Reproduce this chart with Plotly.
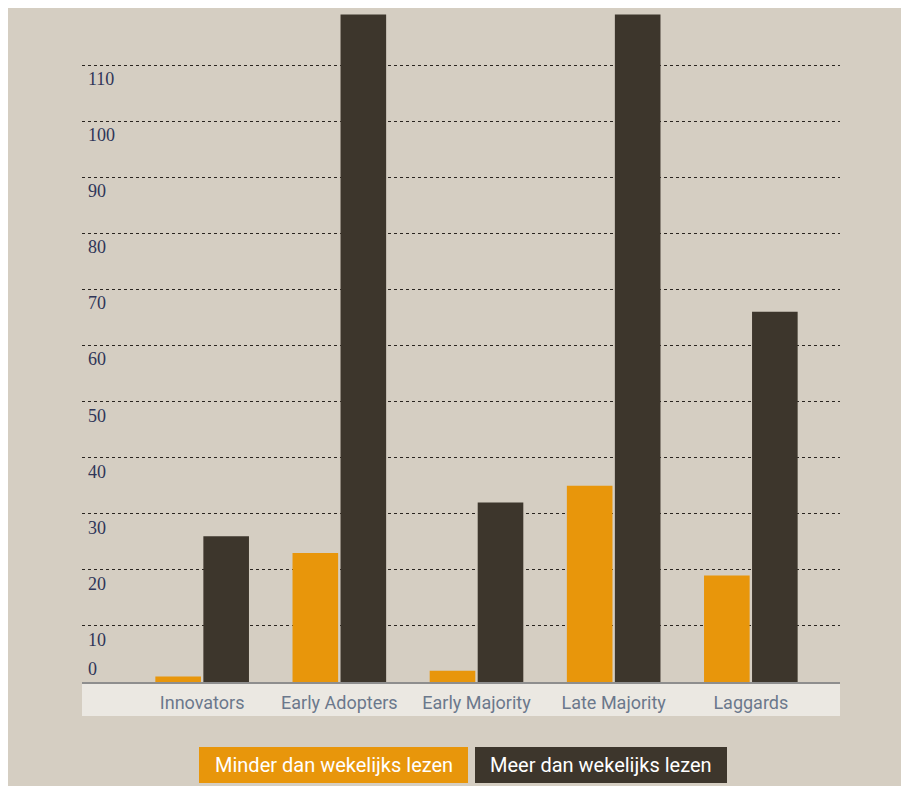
import plotly.graph_objects as go

categories = ["Innovators", "Early Adopters", "Early Majority", "Late Majority", "Laggards"]
series_names = ["Minder dan wekelijks lezen", "Meer dan wekelijks lezen"]
minder = [1, 23, 2, 35, 19]
meer = [26, 119, 32, 119, 66]
y_ticks = [0, 10, 20, 30, 40, 50, 60, 70, 80, 90, 100, 110]
colors = ["#e8960b", "#3d362c"]

OFF = 8  # page body margin
W, H = 909 - 2 * OFF, 794 - 2 * OFF
L, R, T, B = 82 - OFF, 840 - OFF, 14 - OFF, 682 - OFF
PW, PH = R - L, B - T


def px(x):
    return (x - OFF - L) / PW


def py(y):
    return (B - (y - OFF)) / PH


fig = go.Figure()
for name, vals, col in zip(series_names, [minder, meer], colors):
    fig.add_trace(go.Bar(x=categories, y=vals, name=name, marker=dict(color=col, line=dict(width=0)),
                         showlegend=False))

shapes = [
    # x-label band
    dict(type="rect", xref="paper", yref="paper", x0=0, x1=1, y0=py(716), y1=py(684),
         fillcolor="#ebe8e2", line=dict(width=0), layer="below"),
    # axis baseline
    dict(type="line", xref="paper", yref="paper", x0=0, x1=1, y0=py(683), y1=py(683),
         line=dict(color="#8e8e8e", width=2)),
]

annotations = []
for v in y_ticks:
    if v == 0:
        annotations.append(dict(x=px(86), xref="paper", y=v, yref="y", text=str(v), showarrow=False,
                                xanchor="left", yanchor="bottom", yshift=1,
                                font=dict(family="Liberation Serif", size=18, color="#2f3558")))
    else:
        annotations.append(dict(x=px(86), xref="paper", y=v, yref="y", text=str(v), showarrow=False,
                                xanchor="left", yanchor="top", yshift=-2,
                                font=dict(family="Liberation Serif", size=18, color="#2f3558")))

# legend boxes
legend_boxes = [(199, 468), (475, 727)]
for (x0, x1), name, col in zip(legend_boxes, series_names, colors):
    shapes.append(dict(type="rect", xref="paper", yref="paper", x0=px(x0), x1=px(x1), y0=py(783), y1=py(747),
                       fillcolor=col, line=dict(width=0)))
    annotations.append(dict(x=px((x0 + x1) / 2), y=py(765), xref="paper", yref="paper", text=name,
                            showarrow=False, xanchor="center", yanchor="middle",
                            font=dict(family="Roboto, sans-serif", size=20, color="#ffffff")))

fig.update_layout(
    width=W, height=H,
    margin=dict(l=L, r=W - R, t=T, b=H - B, pad=0),
    paper_bgcolor="#d5cec2",
    plot_bgcolor="rgba(0,0,0,0)",
    barmode="group",
    bargap=0.3,
    bargroupgap=0.05,
    shapes=shapes,
    annotations=annotations,
    xaxis=dict(range=[-0.876, 4.65], showgrid=False, zeroline=False, showline=False,
               ticks="", tickfont=dict(family="Roboto, sans-serif", size=18, color="#6b788c"),
               ticklabelstandoff=8),
    yaxis=dict(range=[0, 119.1], tickvals=y_ticks[1:], showticklabels=False, showgrid=True,
               gridcolor="#2a2520", griddash="dot", gridwidth=1, zeroline=False, showline=False, ticks=""),
)

fig.write_html("out.html")
